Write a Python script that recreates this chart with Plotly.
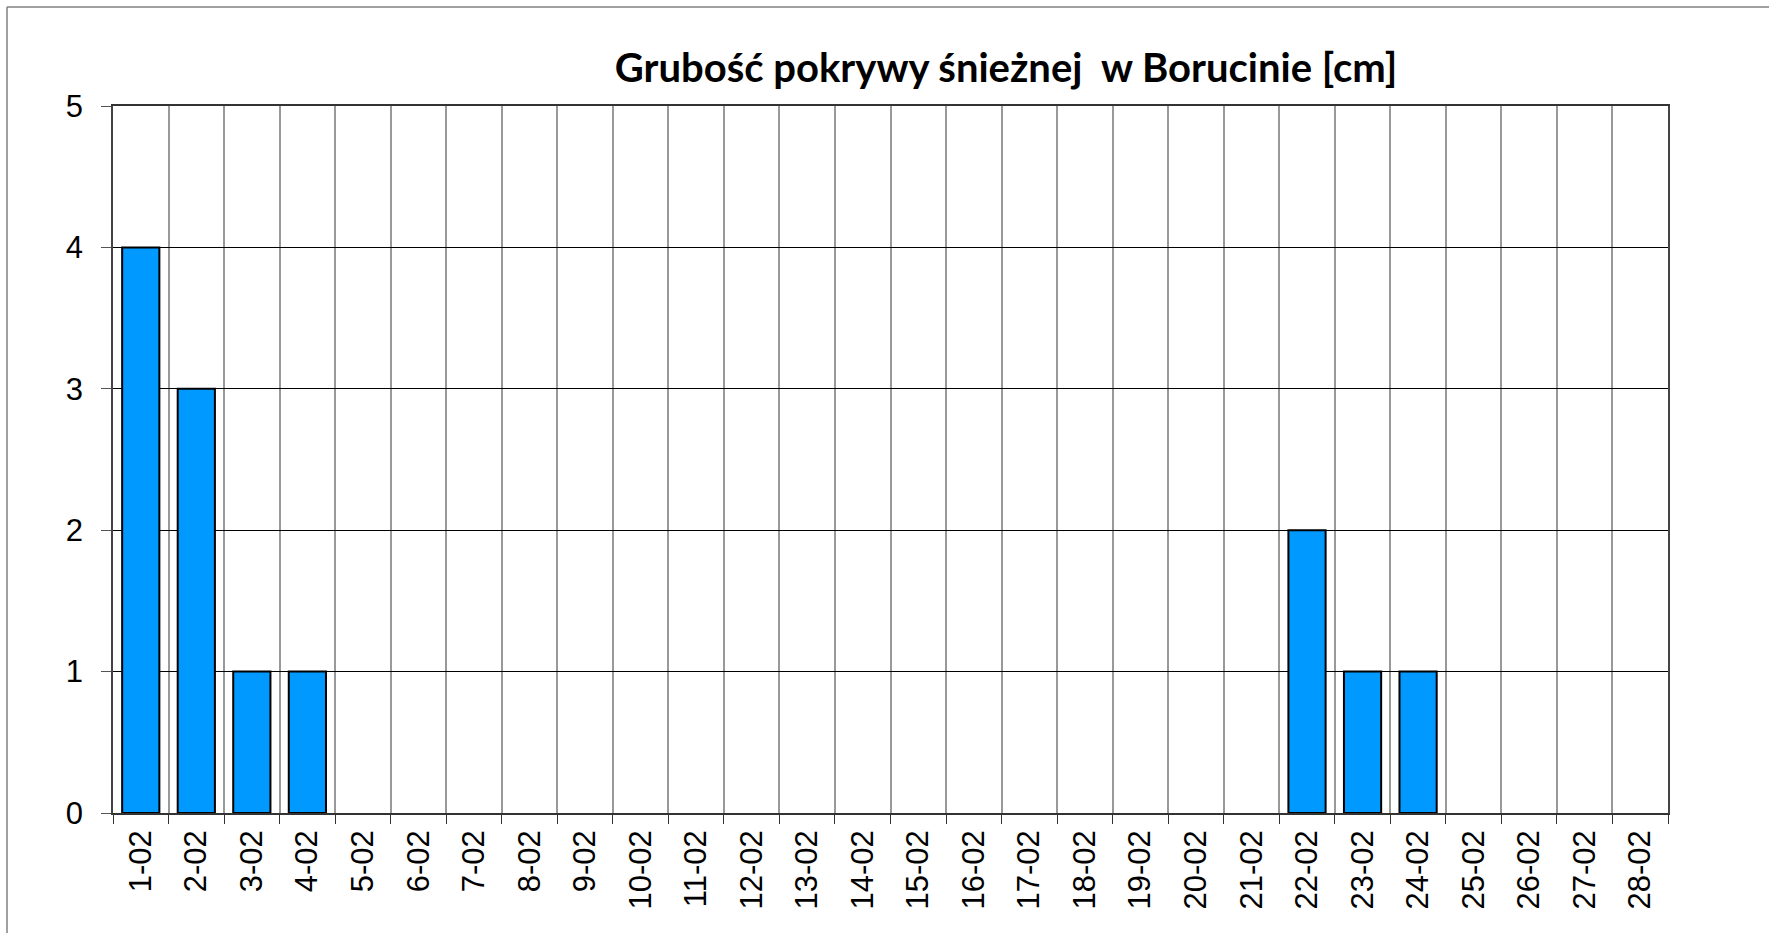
import plotly.graph_objects as go

# Snow cover depth per day of February
days = [f"{d}-02" for d in range(1, 29)]
depth_cm = [4, 3, 1, 1, 0, 0, 0, 0, 0, 0, 0, 0, 0, 0,
            0, 0, 0, 0, 0, 0, 0, 2, 1, 1, 0, 0, 0, 0]
y_ticks = [0, 1, 2, 3, 4, 5]
title_text = "Grubość pokrywy śnieżnej  w Borucinie [cm]"

W, H = 1769, 933
ML, MR, MT, MB = 113, 101, 106, 120
pw, ph = W - ML - MR, H - MT - MB


def px_x(p):
    return (p - ML) / pw


def px_y(p):
    return 1 - (p - MT) / ph


# empty days get no outline so nothing is drawn for them
outline_w = [2 if v > 0 else 0 for v in depth_cm]

fig = go.Figure(
    go.Bar(
        x=days,
        y=depth_cm,
        marker=dict(color="#0099FF", line=dict(color="#000000", width=outline_w)),
        width=0.67,
    )
)

tick_font = dict(family="Liberation Sans, Arial, sans-serif", size=31, color="#000000")

fig.update_layout(
    width=W,
    height=H,
    margin=dict(l=ML, r=MR, t=MT, b=MB),
    paper_bgcolor="#FFFFFF",
    plot_bgcolor="#FFFFFF",
    showlegend=False,
    title=dict(
        text=f"<b>{title_text}</b>",
        font=dict(family="Lato, Carlito, sans-serif", size=40, color="#000000",
                  weight=900),
        x=px_x(1006),
        xref="paper",
        xanchor="center",
        y=1 - 68 / H,
        yref="container",
        yanchor="middle",
    ),
    xaxis=dict(
        type="category",
        tickson="boundaries",
        showgrid=True,
        gridcolor="#999999",
        gridwidth=1.5,
        ticks="outside",
        ticklen=9,
        tickcolor="#333333",
        tickangle=-90,
        tickfont=tick_font,
        ticklabelstandoff=3,
        showline=True,
        linecolor="#333333",
        linewidth=1.5,
        mirror=True,
        range=[-0.5, 27.5],
        fixedrange=True,
    ),
    yaxis=dict(
        range=[0, 5],
        tickvals=y_ticks,
        showgrid=True,
        gridcolor="#000000",
        gridwidth=1,
        ticks="outside",
        ticklen=10,
        tickcolor="#555555",
        tickfont=tick_font,
        ticklabelstandoff=12,
        showline=True,
        linecolor="#444444",
        linewidth=1.5,
        mirror=True,
        zeroline=False,
        fixedrange=True,
    ),
    shapes=[
        # chart frame: top and left edges
        dict(type="line", xref="paper", yref="paper",
             x0=px_x(7), x1=px_x(W + 5), y0=px_y(7), y1=px_y(7),
             line=dict(color="#808080", width=1.5)),
        dict(type="line", xref="paper", yref="paper",
             x0=px_x(7), x1=px_x(7), y0=px_y(7), y1=px_y(H + 5),
             line=dict(color="#808080", width=1.5)),
    ],
)

fig.write_html("out.html")
